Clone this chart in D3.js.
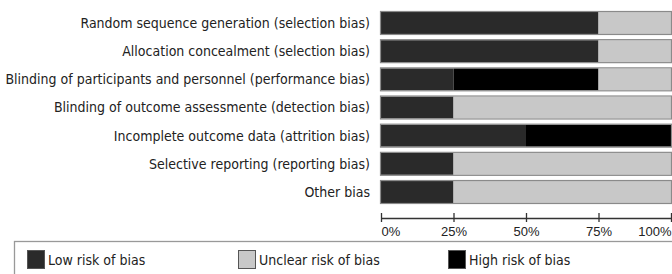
<!DOCTYPE html>
<html>
<head>
<meta charset="utf-8">
<script src="https://cdn.jsdelivr.net/npm/d3@7"></script>
<style>
  body { margin: 0; background: #fff; }
  svg text { font-family: "Liberation Sans Narrow", "DejaVu Sans Condensed", sans-serif; fill: #222; }
</style>
</head>
<body>
<script>
const WIDTH = 672;
const HEIGHT = 274;

var categories = [
    'Random sequence generation (selection bias)',
    'Allocation concealment (selection bias)',
    'Blinding of participants and personnel (performance bias)',
    'Blinding of outcome assessmente (detection bias)',
    'Incomplete outcome data (attrition bias)',
    'Selective reporting (reporting bias)',
    'Other bias'
];
var lowRisk = [75, 75, 25, 25, 50, 25, 25];
var unclearRisk = [25, 25, 25, 75, 0, 75, 75];
var highRisk = [0, 0, 50, 0, 50, 0, 0];
var tickValues = [0, 25, 50, 75, 100];
var legendLabels = ['Low risk of bias', 'Unclear risk of bias', 'High risk of bias'];

// stack order in the bars: low, high, unclear
var keys = ['low', 'high', 'unclear'];
var colors = {low: '#2a2a2a', high: '#000000', unclear: '#c8c8c8'};

var rows = categories.map(function(c, i) {
    return {name: c, low: lowRisk[i], unclear: unclearRisk[i], high: highRisk[i]};
});

var svg = d3.select('body').append('svg')
    .attr('width', WIDTH)
    .attr('height', HEIGHT);

var xScale = d3.scaleLinear()
    .domain([0, 100])
    .range([381, 671]);

var yScale = d3.scaleBand()
    .domain(categories)
    .range([12, 203])
    .paddingInner(0.22)
    .paddingOuter(0);

var series = d3.stack().keys(keys)(rows);

series.forEach(function(s) {
    svg.append('g')
        .selectAll('rect')
        .data(s)
        .enter()
        .append('rect')
        .attr('x', function(d) { return xScale(d[0]); })
        .attr('y', function(d) { return yScale(d.data.name); })
        .attr('width', function(d) { return xScale(d[1]) - xScale(d[0]); })
        .attr('height', yScale.bandwidth())
        .attr('fill', colors[s.key]);
});

// outline of each bar
svg.append('g')
    .selectAll('rect')
    .data(rows)
    .enter()
    .append('rect')
    .attr('x', xScale(0) - 0.5)
    .attr('y', function(d) { return yScale(d.name) - 0.5; })
    .attr('width', xScale(100) - xScale(0) + 1)
    .attr('height', yScale.bandwidth() + 1)
    .attr('fill', 'none')
    .attr('stroke', '#8a8a8a')
    .attr('stroke-width', 1.2);

// category labels
svg.append('g')
    .selectAll('text')
    .data(categories)
    .enter()
    .append('text')
    .attr('x', 370)
    .attr('y', function(d) { return yScale(d) + yScale.bandwidth() / 2; })
    .attr('dy', '0.35em')
    .attr('text-anchor', 'end')
    .style('font-size', '14px')
    .text(function(d) { return d; });

// axis
var axis = svg.append('g')
    .attr('transform', 'translate(0,218)')
    .call(d3.axisBottom(xScale)
        .tickValues(tickValues)
        .tickFormat(function(d) { return d + '%'; })
        .tickSizeInner(4)
        .tickSizeOuter(0));
axis.select('.domain').attr('stroke', '#333').attr('stroke-width', 1.3);
axis.selectAll('.tick line').attr('stroke', '#333').attr('stroke-width', 1.3)
    .attr('y1', -5).attr('y2', 4);
axis.selectAll('.tick text')
    .attr('y', 9)
    .style('font-size', '13px')
    .style('font-family', '"Liberation Sans Narrow", sans-serif')
    .attr('fill', '#222')
    .attr('text-anchor', function(d, i) {
        if (i == 0) return 'start';
        if (i == tickValues.length - 1) return 'end';
        return 'middle';
    });

// legend
svg.append('rect')
    .attr('x', 14.5)
    .attr('y', 241.5)
    .attr('width', 700)
    .attr('height', 60)
    .attr('fill', 'none')
    .attr('stroke', '#999')
    .attr('stroke-width', 1.3);

var legendX = [27, 238, 448];
var legendKeys = ['low', 'unclear', 'high'];
var legend = svg.append('g')
    .selectAll('g')
    .data(legendLabels)
    .enter()
    .append('g')
    .attr('transform', function(d, i) { return 'translate(' + legendX[i] + ',250)'; });

legend.append('rect')
    .attr('x', 0.5)
    .attr('y', 0.5)
    .attr('width', 17)
    .attr('height', 18)
    .attr('fill', function(d, i) { return colors[legendKeys[i]]; })
    .attr('stroke', '#555')
    .attr('stroke-width', 1);

legend.append('text')
    .attr('x', 21)
    .attr('y', 10)
    .attr('dy', '0.35em')
    .style('font-size', '14px')
    .text(function(d) { return d; });
</script>
</body>
</html>
